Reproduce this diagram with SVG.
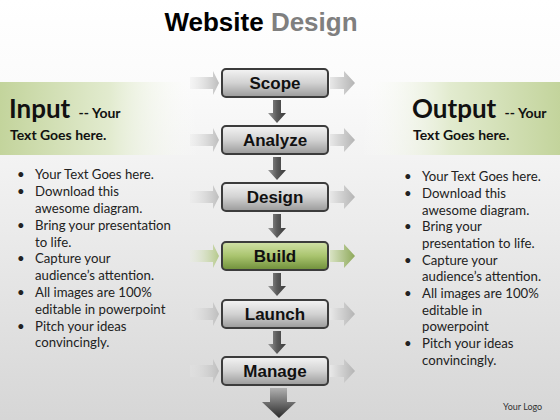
<svg xmlns="http://www.w3.org/2000/svg" width="560" height="420" viewBox="0 0 560 420">
<defs>
<linearGradient id="bg" x1="0" y1="0" x2="0" y2="1">
<stop offset="0" stop-color="#ffffff"/>
<stop offset="0.2" stop-color="#fbfbfb"/>
<stop offset="1" stop-color="#d6d6d6"/>
</linearGradient>
<linearGradient id="gl" x1="0" y1="0" x2="1" y2="0">
<stop offset="0" stop-color="#c3d49c"/>
<stop offset="0.55" stop-color="#e2ebcf"/>
<stop offset="1" stop-color="#ffffff" stop-opacity="0"/>
</linearGradient>
<linearGradient id="gr" x1="1" y1="0" x2="0" y2="0">
<stop offset="0" stop-color="#c3d49c"/>
<stop offset="0.55" stop-color="#e2ebcf"/>
<stop offset="1" stop-color="#ffffff" stop-opacity="0"/>
</linearGradient>
<linearGradient id="box" x1="0" y1="0" x2="0" y2="1">
<stop offset="0" stop-color="#f4f4f4"/>
<stop offset="0.5" stop-color="#d2d2d2"/>
<stop offset="1" stop-color="#9a9a9a"/>
</linearGradient>
<linearGradient id="boxg" x1="0" y1="0" x2="0" y2="1">
<stop offset="0" stop-color="#d2e2a8"/>
<stop offset="0.5" stop-color="#a9c46e"/>
<stop offset="1" stop-color="#6f8f3a"/>
</linearGradient>
<linearGradient id="al" x1="0" y1="0" x2="1" y2="0">
<stop offset="0" stop-color="#e6e6e6" stop-opacity="0.3"/>
<stop offset="1" stop-color="#bdbdbd"/>
</linearGradient>
<linearGradient id="ar" x1="0" y1="0" x2="1" y2="0">
<stop offset="0" stop-color="#e8e8e8"/>
<stop offset="1" stop-color="#b4b4b4"/>
</linearGradient>
<linearGradient id="alg" x1="0" y1="0" x2="1" y2="0">
<stop offset="0" stop-color="#e8eedd" stop-opacity="0.3"/>
<stop offset="1" stop-color="#b5c98a"/>
</linearGradient>
<linearGradient id="arg" x1="0" y1="0" x2="1" y2="0">
<stop offset="0" stop-color="#d9e3c4"/>
<stop offset="1" stop-color="#8ea95a"/>
</linearGradient>
<linearGradient id="ad" x1="0" y1="0" x2="1" y2="0">
<stop offset="0" stop-color="#9a9a9a"/>
<stop offset="0.5" stop-color="#5a5a5a"/>
<stop offset="1" stop-color="#3a3a3a"/>
</linearGradient>
<linearGradient id="abig" x1="0" y1="0" x2="0" y2="1">
<stop offset="0" stop-color="#b0b0b0"/>
<stop offset="1" stop-color="#2a2a2a"/>
</linearGradient>
<style>
.bx{stroke:#3c3c3c;stroke-width:2}
.bt{font-family:"Liberation Sans",Arial,sans-serif;font-weight:bold;font-size:17px;fill:#111;text-anchor:middle}
.hd{font-family:Lato,"Open Sans",sans-serif;font-weight:bold;fill:#111}
.bl{font-family:Lato,"Open Sans",sans-serif;font-size:13.2px;fill:#222}
</style>
</defs>
<rect width="560" height="420" fill="url(#bg)"/>
<rect x="0" y="82" width="200" height="73" fill="url(#gl)"/>
<rect x="360" y="82" width="200" height="73" fill="url(#gr)"/>
<text x="261" y="31" text-anchor="middle" font-family="Liberation Sans,Arial,sans-serif" font-weight="bold" font-size="26"><tspan fill="#000">Website</tspan> <tspan fill="#7f7f7f">Design</tspan></text>
<g id="input-header">
<text class="hd" x="9" y="118" font-size="26">Input <tspan font-size="14" dx="2">--  Your</tspan></text>
<text class="hd" x="10" y="140" font-size="14">Text Goes here.</text>
</g>
<g id="output-header">
<text class="hd" x="412" y="118" font-size="26">Output <tspan font-size="14" dx="2">--  Your</tspan></text>
<text class="hd" x="413" y="140" font-size="14">Text Goes here.</text>
</g>
<g id="input-list" class="bl">
<text x="17" y="179">•</text><text x="35" y="179">Your Text Goes here.</text>
<text x="17" y="196">•</text><text x="35" y="196">Download this</text>
<text x="35" y="213">awesome diagram.</text>
<text x="17" y="230">•</text><text x="35" y="230">Bring your presentation</text>
<text x="35" y="247">to life.</text>
<text x="17" y="263">•</text><text x="35" y="263">Capture your</text>
<text x="35" y="280">audience’s attention.</text>
<text x="17" y="297">•</text><text x="35" y="297">All images are 100%</text>
<text x="35" y="314">editable in powerpoint</text>
<text x="17" y="331">•</text><text x="35" y="331">Pitch your ideas</text>
<text x="35" y="347">convincingly.</text>
</g>
<g id="output-list" class="bl">
<text x="404" y="181">•</text><text x="422" y="181">Your Text Goes here.</text>
<text x="404" y="198">•</text><text x="422" y="198">Download this</text>
<text x="422" y="215">awesome diagram.</text>
<text x="404" y="231">•</text><text x="422" y="231">Bring your</text>
<text x="422" y="248">presentation to life.</text>
<text x="404" y="265">•</text><text x="422" y="265">Capture your</text>
<text x="422" y="281">audience’s attention.</text>
<text x="404" y="298">•</text><text x="422" y="298">All images are 100%</text>
<text x="422" y="315">editable in</text>
<text x="422" y="331">powerpoint</text>
<text x="404" y="348">•</text><text x="422" y="348">Pitch your ideas</text>
<text x="422" y="365">convincingly.</text>
</g>
<text x="503" y="410" font-family="Lato,'Open Sans',sans-serif" font-size="9" fill="#333">Your Logo</text>
<g id="connectors">
<g fill="url(#al)">
<path d="M190 77h23v-6l6 12-6 12v-6h-23z"/>
<path d="M190 134h23v-6l6 12-6 12v-6h-23z"/>
<path d="M190 191h23v-6l6 12-6 12v-6h-23z"/>
<path d="M190 308h23v-6l6 12-6 12v-6h-23z"/>
<path d="M190 365h23v-6l6 12-6 12v-6h-23z"/>
</g>
<path d="M190 250h23v-6l6 12-6 12v-6h-23z" fill="url(#alg)"/>
<g fill="url(#ar)">
<path d="M330 77h14v-6l11 12-11 12v-6h-14z"/>
<path d="M330 134h14v-6l11 12-11 12v-6h-14z"/>
<path d="M330 191h14v-6l11 12-11 12v-6h-14z"/>
<path d="M330 308h14v-6l11 12-11 12v-6h-14z"/>
<path d="M330 365h14v-6l11 12-11 12v-6h-14z"/>
</g>
<path d="M330 250h14v-6l11 12-11 12v-6h-14z" fill="url(#arg)"/>
<g fill="url(#ad)">
<path d="M273 100h8v13h5l-9 10-9-10h5z"/>
<path d="M273 157h8v13h5l-9 10-9-10h5z"/>
<path d="M273 214h8v14h5l-9 10-9-10h5z"/>
<path d="M273 273h8v13h5l-9 10-9-10h5z"/>
<path d="M273 331h8v13h5l-9 10-9-10h5z"/>
</g>
<path d="M270 388h17v14h9l-17 16-17-16h8z" fill="url(#abig)"/>
</g>
<g id="scope"><rect class="bx" x="222" y="69" width="106" height="28" rx="4" fill="url(#box)"/><text class="bt" x="275" y="89">Scope</text></g>
<g id="analyze"><rect class="bx" x="222" y="126" width="106" height="28" rx="4" fill="url(#box)"/><text class="bt" x="275" y="146">Analyze</text></g>
<g id="design"><rect class="bx" x="222" y="183" width="106" height="28" rx="4" fill="url(#box)"/><text class="bt" x="275" y="203">Design</text></g>
<g id="build"><rect class="bx" x="222" y="242" width="106" height="28" rx="4" fill="url(#boxg)"/><text class="bt" x="275" y="262">Build</text></g>
<g id="launch"><rect class="bx" x="222" y="300" width="106" height="28" rx="4" fill="url(#box)"/><text class="bt" x="275" y="320">Launch</text></g>
<g id="manage"><rect class="bx" x="222" y="357" width="106" height="28" rx="4" fill="url(#box)"/><text class="bt" x="275" y="377">Manage</text></g>
</svg>
